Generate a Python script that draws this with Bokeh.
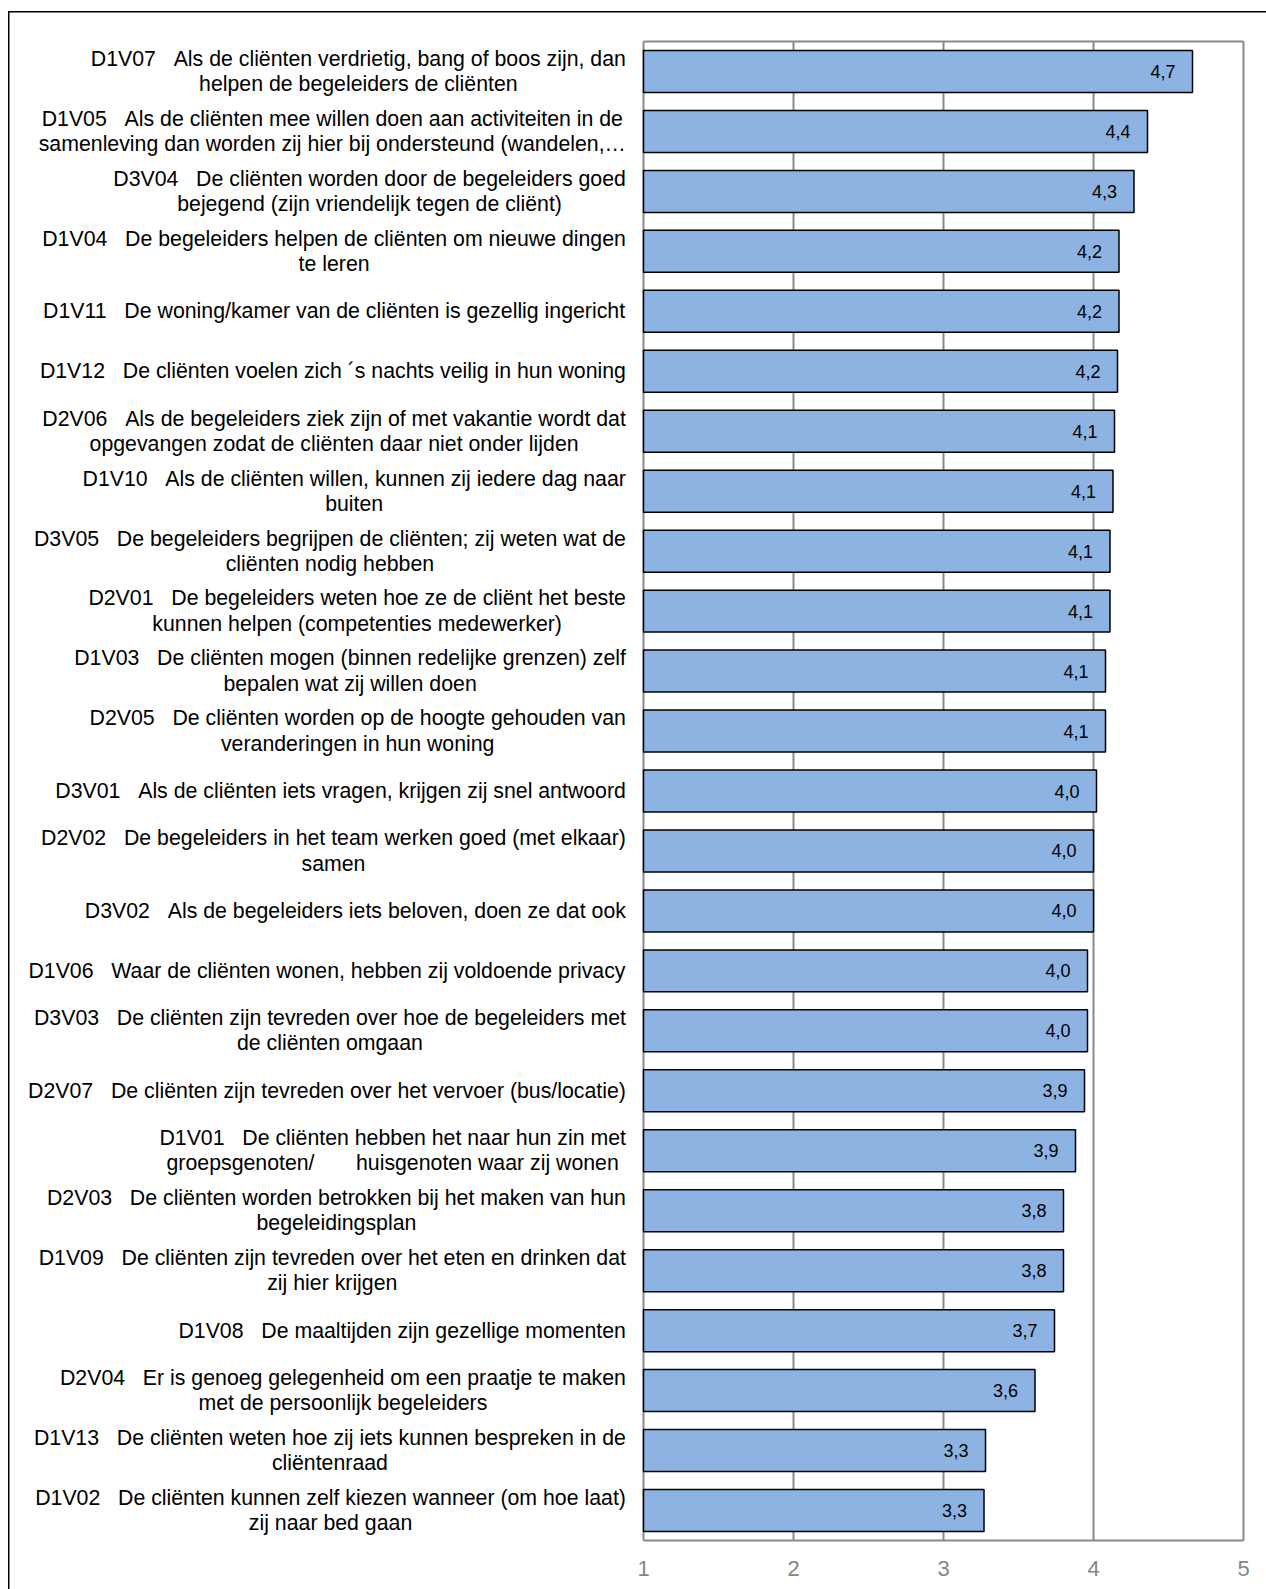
import re
from bokeh.plotting import figure
from bokeh.models import ColumnDataSource, LabelSet, FixedTicker, Range1d
from bokeh.core.properties import value
from bokeh.embed import file_html
from bokeh.resources import INLINE

# ---------------- data ----------------
codes = ["D1V07", "D1V05", "D3V04", "D1V04", "D1V11", "D1V12", "D2V06", "D1V10",
         "D3V05", "D2V01", "D1V03", "D2V05", "D3V01", "D2V02", "D3V02", "D1V06",
         "D3V03", "D2V07", "D1V01", "D2V03", "D1V09", "D1V08", "D2V04", "D1V13", "D1V02"]

label_lines = [
    ["D1V07   Als de cliënten verdrietig, bang of boos zijn, dan", "helpen de begeleiders de cliënten"],
    ["D1V05   Als de cliënten mee willen doen aan activiteiten in de", "samenleving dan worden zij hier bij ondersteund (wandelen,…"],
    ["D3V04   De cliënten worden door de begeleiders goed", "bejegend (zijn vriendelijk tegen de cliënt)"],
    ["D1V04   De begeleiders helpen de cliënten om nieuwe dingen", "te leren"],
    ["D1V11   De woning/kamer van de cliënten is gezellig ingericht"],
    ["D1V12   De cliënten voelen zich ´s nachts veilig in hun woning"],
    ["D2V06   Als de begeleiders ziek zijn of met vakantie wordt dat", "opgevangen zodat de cliënten daar niet onder lijden"],
    ["D1V10   Als de cliënten willen, kunnen zij iedere dag naar", "buiten"],
    ["D3V05   De begeleiders begrijpen de cliënten; zij weten wat de", "cliënten nodig hebben"],
    ["D2V01   De begeleiders weten hoe ze de cliënt het beste", "kunnen helpen (competenties medewerker)"],
    ["D1V03   De cliënten mogen (binnen redelijke grenzen) zelf", "bepalen wat zij willen doen"],
    ["D2V05   De cliënten worden op de hoogte gehouden van", "veranderingen in hun woning"],
    ["D3V01   Als de cliënten iets vragen, krijgen zij snel antwoord"],
    ["D2V02   De begeleiders in het team werken goed (met elkaar)", "samen"],
    ["D3V02   Als de begeleiders iets beloven, doen ze dat ook"],
    ["D1V06   Waar de cliënten wonen, hebben zij voldoende privacy"],
    ["D3V03   De cliënten zijn tevreden over hoe de begeleiders met", "de cliënten omgaan"],
    ["D2V07   De cliënten zijn tevreden over het vervoer (bus/locatie)"],
    ["D1V01   De cliënten hebben het naar hun zin met", "groepsgenoten/       huisgenoten waar zij wonen"],
    ["D2V03   De cliënten worden betrokken bij het maken van hun", "begeleidingsplan"],
    ["D1V09   De cliënten zijn tevreden over het eten en drinken dat", "zij hier krijgen"],
    ["D1V08   De maaltijden zijn gezellige momenten"],
    ["D2V04   Er is genoeg gelegenheid om een praatje te maken", "met de persoonlijk begeleiders"],
    ["D1V13   De cliënten weten hoe zij iets kunnen bespreken in de", "cliëntenraad"],
    ["D1V02   De cliënten kunnen zelf kiezen wanneer (om hoe laat)", "zij naar bed gaan"],
]

scores = [4.66, 4.36, 4.27, 4.17, 4.17, 4.16, 4.14, 4.13, 4.11, 4.11, 4.08, 4.08, 4.02,
          4.00, 4.00, 3.96, 3.96, 3.94, 3.88, 3.80, 3.80, 3.74, 3.61, 3.28, 3.27]

x_ticks = [1, 2, 3, 4, 5]

# ---------------- style / layout ----------------
FONT = "Liberation Sans"
LABEL_PX = 21.3
LINE_GAP = 25.3          # px between the lines of a category label
LABEL_PAD = 17.6         # px between label block and plot area
BAR_FILL = "#8DB3E2"
GRID_COLOR = "#898989"
NBSP = "\u00a0"

PX_PER_UNIT = 150.0      # horizontal pixels per score point
PLOT_LEFT = 643          # canvas x of score 1
PLOT_H = 1499            # plot-area height in px
EDGE = 2                 # px of frame kept around the plot-area box

# Arial / Liberation Sans advance widths (1/1000 em), used to centre the lines of a label
W = {}
for ch in "ijl": W[ch] = 222
for ch in " ,./;:!ft" + NBSP: W[ch] = 278
for ch in "r()´-": W[ch] = 333
for ch in "ckszvxy": W[ch] = 500
for ch in "abdeghnopqu0123456789ë": W[ch] = 556
W.update({"m": 833, "w": 722, "A": 667, "E": 667, "V": 667, "D": 722, "W": 944, "…": 1000})


def text_width(s):
    return sum(W.get(ch, 556) for ch in s) / 1000.0 * LABEL_PX


def keep_spaces(s):
    return re.sub(r" {2,}", lambda m: NBSP * len(m.group()), s)


N = len(codes)
slot = PLOT_H / N
ypos = [i + 0.5 for i in range(N)]       # category centres (0 at top)

# ---------------- figure ----------------
p = figure(width=1266, height=1589, output_backend="svg", toolbar_location=None,
           x_range=Range1d(1 - PLOT_LEFT / PX_PER_UNIT, x_ticks[-1] + EDGE / PX_PER_UNIT),
           y_range=Range1d(N + EDGE / slot, -EDGE / slot),
           y_axis_location=None,
           min_border_left=0, min_border_right=1266 - (PLOT_LEFT + 600 + EDGE),
           min_border_top=41 - EDGE, min_border_bottom=1589 - (41 + PLOT_H + EDGE))
p.background_fill_color = None
p.border_fill_color = None
p.outline_line_color = None
p.xgrid.visible = False
p.ygrid.visible = False
# outer chart-area border (runs off the page at the right and bottom)
p.styles = {
    "background-color": "white",
    "background-image": "linear-gradient(#000, #000), linear-gradient(#000, #000)",
    "background-size": "1.5px 3000px, 3000px 1.5px",
    "background-position": "8px 11px, 8px 11px",
    "background-repeat": "no-repeat",
}

ax = p.xaxis[0]
ax.ticker = FixedTicker(ticks=x_ticks)
ax.axis_line_color = None
ax.major_tick_line_color = None
ax.minor_tick_line_color = None
ax.major_tick_out = 0
ax.major_tick_in = 0
ax.major_label_standoff = 18
ax.major_label_text_font = FONT
ax.major_label_text_font_size = "22px"
ax.major_label_text_color = "#858585"

# plot-area box and vertical gridlines
p.segment(x0=x_ticks, x1=x_ticks, y0=[0] * len(x_ticks), y1=[N] * len(x_ticks),
          line_color=GRID_COLOR, line_width=2)
p.segment(x0=[x_ticks[0]] * 2, x1=[x_ticks[-1]] * 2, y0=[0, N], y1=[0, N],
          line_color=GRID_COLOR, line_width=2)

bar_src = ColumnDataSource(dict(
    y=ypos, right=scores,
    lab=[f"{v:.1f}".replace(".", ",") for v in scores],
))
p.hbar(y="y", left=x_ticks[0], right="right", height=0.70, source=bar_src,
       fill_color=BAR_FILL, line_color="black", line_width=1.5)

p.add_layout(LabelSet(x="right", y="y", text="lab", source=bar_src, x_offset=-17,
                      text_align="right", text_baseline="middle", text_font=value(FONT),
                      text_font_size="18px", text_color="black"))

# category labels: block right-aligned at the plot area, lines centred in the block
ly, lt, lxo, lyo = [], [], [], []
for yc, lines in zip(ypos, label_lines):
    maxw = max(text_width(l) for l in lines)
    n = len(lines)
    for i, line in enumerate(lines):
        ly.append(yc)
        lt.append(keep_spaces(line))
        lxo.append(-(LABEL_PAD + maxw / 2.0))
        lyo.append((i - (n - 1) / 2.0) * LINE_GAP)
lab_src = ColumnDataSource(dict(x=[x_ticks[0]] * len(ly), y=ly, text=lt, xo=lxo, yo=lyo))
p.text(x="x", y="y", text="text", x_offset="xo", y_offset="yo", source=lab_src,
       text_align="center", text_baseline="middle", text_font=value(FONT),
       text_font_size=f"{LABEL_PX}px", text_color="black")

open("out.html", "w").write(file_html(p, INLINE))
